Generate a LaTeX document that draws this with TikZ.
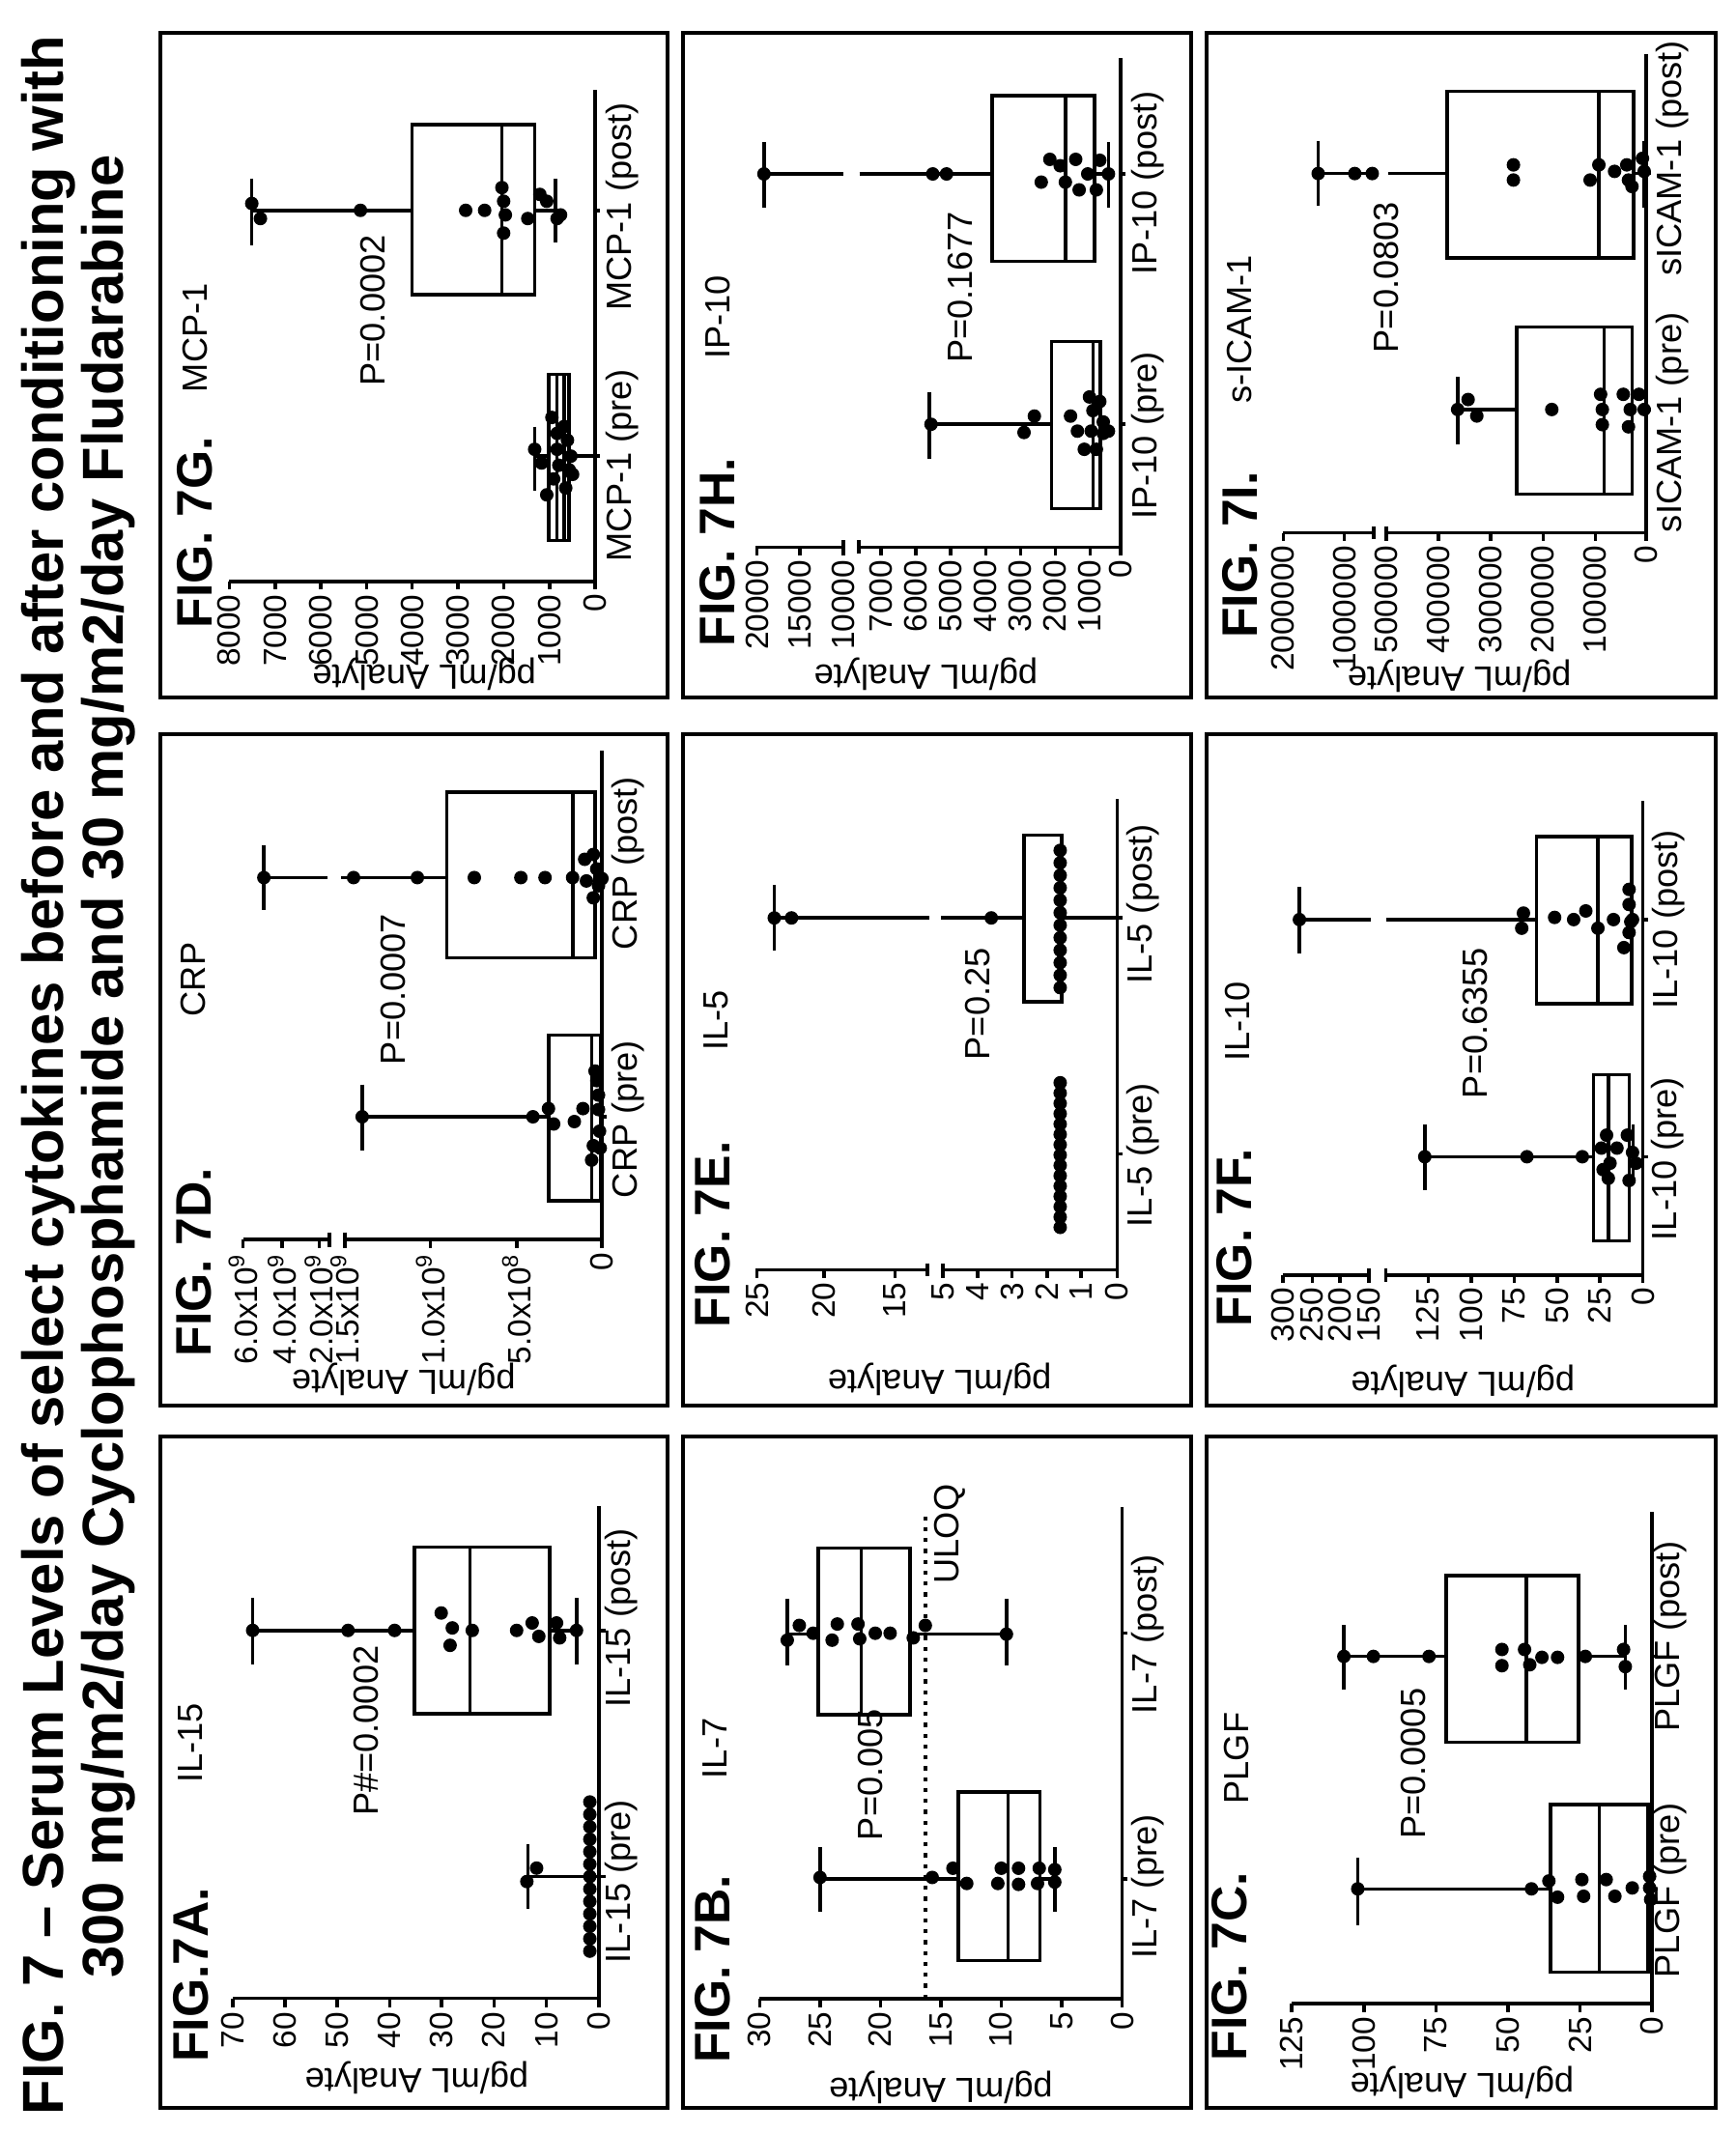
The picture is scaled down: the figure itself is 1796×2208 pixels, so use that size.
\documentclass[tikz,border=0pt]{standalone}
\usepackage{fontspec}
\setmainfont{Liberation Sans}
\usepackage{tikz}
\usetikzlibrary{positioning}

\tikzset{
  pframe/.style n args={8}{shift={({#1+#8/(#8-#7)*#3},{#2+#6/(#6-#5)*#4})},
    x={(0pt,{-#4/(#6-#5)*0.01cm})}, y={({-#3/(#8-#7)*0.01cm},0pt)}},
  border/.style={line width=1.2pt},
  axis/.style={line width=1pt},
  bx/.style={line width=1pt},
  pdot/.style={circle, fill=black, inner sep=0pt, minimum size=0.14cm},
  tick/.style={anchor=east, inner sep=1pt, font=\fontsize{9.5}{10}\selectfont},
  figlab/.style={anchor=west, inner sep=0pt, font=\fontsize{14.7}{15}\selectfont\bfseries},
  ylab/.style={rotate=90},
}

\begin{document}
\begin{tikzpicture}[x=0.01cm, y=0.01cm, every node/.style={rotate=90, font=\fontsize{10.3}{11}\selectfont}]
\useasboundingbox (0,0) rectangle (1796,2208);
\begin{scope}[shift={(1796,0)}, rotate=90]
  % title
  \node[anchor=west, inner sep=0pt, font=\fontsize{17}{18}\selectfont\bfseries] (title1) at (18,1746)
    {FIG. 7 -- Serum Levels of select cytokines before and after conditioning with};
  \node[inner sep=0pt, font=\fontsize{17}{18}\selectfont\bfseries] (title2) at (1104,1684)
    {300 mg/m2/day Cyclophosphamide and 30 mg/m2/day Fludarabine};

  % FIG 7A
  \begin{scope}[pframe={26}{1105}{695}{525}{362}{1505}{170}{1520}]
    \draw[border] (362,170) rectangle (1505,1520);
    \draw[axis] (525,1300) -- (1350,1300) -- (1350,310);
    \foreach \t/\l in {525/70,643/60,761/50,879/40,996/30,1114/20,1232/10,1350/0}
      {\draw[axis] (\t,1300) -- (\t,1318); \node[tick] at (\t,1320) {\l};}
    \draw[axis] (1350,1055) -- (1365,1055) (1350,560) -- (1365,560);
    \node[figlab] (figA) at (430,1430) {FIG.7A.};
    \node (nameA) at (430,787) {IL-15};
    \node[ylab] (yA) at (940,1460) {pg/mL Analyte};
    \node (pA) at (825,762) {P\#=0.0002};
    \node (preA) at (1400,1065) {IL-15 (pre)};
    \node (postA) at (1400,535) {IL-15 (post)};
    \draw[bx] (935,392) rectangle (1240,728) (1060,392) -- (1060,728);
    \draw[bx] (570,560) -- (935,560) (570,495) -- (570,628);
    \draw[bx] (1240,560) -- (1300,560) (1300,495) -- (1300,628);
    \foreach \p in {(570,560),(785,560),(890,560),(995,525),(1015,590),(1020,555),(1065,560),
      (1165,560),(1200,545),(1215,572),(1255,545),(1262,575),(1300,560)} \node[pdot] at \p {};
    \draw[bx] (1190,1055) -- (1350,1055) (1190,990) -- (1190,1120);
    \foreach \p in {(1188,1065),(1210,1038)} \node[pdot] at \p {};
    \foreach \z in {905,930,...,1205} \node[pdot] at (1330,\z) {};
  \end{scope}

  % FIG 7B
  \begin{scope}[pframe={26}{563}{695}{526}{48}{1520}{58}{1515}]
    \draw[border] (48,58) rectangle (1520,1515);
    \draw[axis] (270,1278) -- (1320,1278) -- (1320,210);
    \foreach \t/\l in {270/30,445/25,620/20,795/15,970/10,1145/5,1320/0}
      {\draw[axis] (\t,1278) -- (\t,1296); \node[tick] at (\t,1298) {\l};}
    \draw[axis] (1320,1018) -- (1335,1018) (1320,485) -- (1335,485);
    \draw[line width=1.2pt, dotted] (750,1278) -- (750,220);
    \node (uloq) at (820,270) {ULOQ};
    \node[figlab] (figB) at (135,1420) {FIG. 7B.};
    \node (nameB) at (140,735) {IL-7};
    \node[ylab] (yB) at (795,1470) {pg/mL Analyte};
    \node (pB) at (590,792) {P=0.005};
    \node (preB) at (1395,1035) {IL-7 (pre)};
    \node (postB) at (1395,487) {IL-7 (post)};
    \draw[bx] (845,830) rectangle (1082,1195) (990,830) -- (990,1195);
    \draw[bx] (445,1018) -- (845,1018) (445,950) -- (445,1090);
    \draw[bx] (1082,1018) -- (1125,1018) (1125,950) -- (1125,1090);
    \foreach \p in {(445,1015),(770,1015),(830,995),(870,1028),(960,1028),(970,995),(1020,995),
      (1020,1030),(1080,995),(1075,1028),(1125,998),(1125,1025)} \node[pdot] at \p {};
    \draw[bx] (440,300) rectangle (705,662) (565,300) -- (565,662);
    \draw[bx] (350,487) -- (440,487) (350,410) -- (350,555);
    \draw[bx] (705,487) -- (985,487) (985,410) -- (985,555);
    \foreach \p in {(350,500),(385,468),(425,485),(480,500),(495,465),(555,465),(560,497),
      (605,485),(648,485),(715,495),(750,468),(985,487)} \node[pdot] at \p {};
  \end{scope}

  % FIG 7C
  \begin{scope}[pframe={26}{20}{695}{527}{80}{1545}{75}{1525}]
    \draw[border] (80,75) rectangle (1545,1525);
    \draw[axis] (325,1300) -- (1362,1300) -- (1362,238);
    \foreach \t/\l in {325/125,533/100,740/75,948/50,1155/25,1362/0}
      {\draw[axis] (\t,1300) -- (\t,1318); \node[tick] at (\t,1320) {\l};}
    \draw[axis] (1362,1052) -- (1377,1052) (1362,550) -- (1377,550);
    \node[figlab] (figC) at (145,1425) {FIG. 7C.};
    \node (nameC) at (165,770) {PLGF};
    \node[ylab] (yC) at (815,1470) {pg/mL Analyte};
    \node (pC) at (675,782) {P=0.0005};
    \node (preC) at (1415,1055) {PLGF (pre)};
    \node (postC) at (1415,507) {PLGF (post)};
    \draw[bx] (1070,870) rectangle (1350,1232) (1210,870) -- (1210,1232);
    \draw[bx] (515,1052) -- (1070,1052) (515,985) -- (515,1130);
    \foreach \p in {(515,1052),(1015,1052),(1065,1035),(1090,1070),(1160,1032),(1165,1068),
      (1230,1032),(1255,1068),(1305,1050),(1355,1025),(1355,1050),(1358,1075)} \node[pdot] at \p {};
    \draw[bx] (770,375) rectangle (1150,735) (1000,375) -- (1000,735);
    \draw[bx] (475,550) -- (770,550) (475,482) -- (475,622);
    \draw[bx] (1150,550) -- (1285,550) (1285,482) -- (1285,622);
    \foreach \p in {(475,550),(560,550),(720,550),(930,535),(930,570),(995,535),(1010,568),
      (1045,552),(1090,552),(1170,550),(1280,535),(1285,572)} \node[pdot] at \p {};
  \end{scope}

  % FIG 7D
  \begin{scope}[pframe={753}{1105}{695}{525}{45}{1515}{80}{1475}]
    \draw[border] (45,80) rectangle (1515,1475);
    \draw[axis] (285,1130) -- (535,1130) (580,1130) -- (1325,1130) -- (1325,115);
    \draw[axis] (535,1115) -- (535,1145) (580,1115) -- (580,1145);
    \foreach \t/\l in {285/6.0x10\textsuperscript{9},398/4.0x10\textsuperscript{9},505/2.0x10\textsuperscript{9},
      580/1.5x10\textsuperscript{9},828/1.0x10\textsuperscript{9},1078/5.0x10\textsuperscript{8},1325/0}
      {\draw[axis] (\t,1130) -- (\t,1148); \node[tick] at (\t,1150) {\l};}
    \draw[axis] (1325,875) -- (1340,875) (1325,378) -- (1340,378);
    \node[figlab] (figD) at (142,1375) {FIG. 7D.};
    \node (nameD) at (140,590) {CRP};
    \node[ylab] (yD) at (750,1420) {pg/mL Analyte};
    \node (pD) at (720,610) {P=0.0007};
    \node (preD) at (1400,880) {CRP (pre)};
    \node (postD) at (1400,348) {CRP (post)};
    \draw[bx] (1170,705) rectangle (1320,1050) (1295,705) -- (1295,1050);
    \draw[bx] (630,875) -- (1170,875) (630,808) -- (630,945);
    \foreach \p in {(630,875),(1125,875),(1170,858),(1185,890),(1245,885),(1270,858),(1295,965),
      (1300,935),(1305,780),(1310,800),(1315,830),(1315,860),(1318,905),(1320,940)} \node[pdot] at \p {};
    \draw[bx] (875,200) rectangle (1305,545) (1240,200) -- (1240,545);
    \draw[bx] (345,378) -- (530,378) (570,378) -- (875,378) (345,310) -- (345,445);
    \foreach \p in {(345,378),(605,378),(790,378),(955,378),(1090,378),(1160,378),(1240,378),
      (1275,340),(1280,385),(1300,330),(1310,360),(1315,395),(1300,420),(1325,380)} \node[pdot] at \p {};
  \end{scope}

  % FIG 7E
  \begin{scope}[pframe={753}{563}{695}{526}{75}{1550}{90}{1650}]
    \draw[border] (75,90) rectangle (1550,1650);
    \draw[axis] (285,1335) -- (785,1335) (830,1335) -- (1335,1335) -- (1335,240);
    \draw[axis] (785,1320) -- (785,1350) (830,1320) -- (830,1350);
    \foreach \t/\l in {290/25,485/20,690/15,830/5,930/4,1030/3,1133/2,1230/1,1335/0}
      {\draw[axis] (\t,1335) -- (\t,1353); \node[tick] at (\t,1355) {\l};}
    \draw[axis] (1335,1065) -- (1350,1065) (1335,517) -- (1350,517);
    \node[figlab] (figE) at (160,1470) {FIG. 7E.};
    \node (nameE) at (170,755) {IL-5};
    \node[ylab] (yE) at (820,1590) {pg/mL Analyte};
    \node (pE) at (930,717) {P=0.25};
    \node (preE) at (1410,1068) {IL-5 (pre)};
    \node (postE) at (1410,485) {IL-5 (post)};
    \foreach \z in {900,924,...,1240} \node[pdot] at (1170,\z) {};
    \draw[bx] (1065,325) rectangle (1175,712);
    \draw[bx] (340,517) -- (790,517) (825,517) -- (1065,517) (1175,517) -- (1335,517);
    \draw[bx] (340,440) -- (340,592);
    \foreach \p in {(340,517),(390,517),(970,517)} \node[pdot] at \p {};
    \foreach \z in {360,389,...,680} \node[pdot] at (1170,\z) {};
  \end{scope}

  % FIG 7F
  \begin{scope}[pframe={753}{20}{695}{527}{80}{1550}{90}{1647}]
    \draw[border] (80,90) rectangle (1550,1647);
    \draw[axis] (300,1345) -- (548,1345) (598,1345) -- (1340,1345) -- (1340,245);
    \draw[axis] (548,1330) -- (548,1360) (598,1330) -- (598,1360);
    \foreach \t/\l in {300/300,385/250,465/200,548/150,720/125,845/100,968/75,1093/50,1215/25,1340/0}
      {\draw[axis] (\t,1345) -- (\t,1363); \node[tick] at (\t,1365) {\l};}
    \draw[axis] (1340,1070) -- (1355,1070) (1340,520) -- (1355,520);
    \node[figlab] (figF) at (160,1465) {FIG. 7F.};
    \node (nameF) at (170,757) {IL-10};
    \node[ylab] (yF) at (820,1590) {pg/mL Analyte};
    \node (pF) at (855,760) {P=0.6355};
    \node (preF) at (1410,1075) {IL-10 (pre)};
    \node (postF) at (1415,520) {IL-10 (post)};
    \draw[bx] (1197,880) rectangle (1300,1265) (1240,880) -- (1240,1265);
    \draw[bx] (710,1070) -- (1197,1070) (710,995) -- (710,1148) (1312,995) -- (1312,1125);
    \foreach \p in {(710,1070),(1005,1070),(1165,1070),(1220,1050),(1235,1020),(1240,1120),(1225,1100),
      (1265,1050),(1295,1020),(1300,1125),(1310,1060),(1320,1085),(1245,1085)} \node[pdot] at \p {};
    \draw[bx] (1033,328) rectangle (1307,715) (1210,328) -- (1210,715);
    \draw[bx] (348,520) -- (555,520) (598,520) -- (1033,520) (348,445) -- (348,598);
    \foreach \p in {(348,520),(995,505),(990,540),(1085,515),(1140,520),(1175,500),(1210,540),
      (1255,520),(1300,450),(1300,485),(1305,525),(1300,550),(1285,585),(1310,520)} \node[pdot] at \p {};
  \end{scope}

  % FIG 7G
  \begin{scope}[pframe={1486}{1105}{688}{525}{45}{1515}{70}{1530}]
    \draw[border] (45,70) rectangle (1515,1530);
    \draw[axis] (245,1275) -- (1305,1275) -- (1305,195);
    \foreach \t/\l in {245/8000,378/7000,510/6000,643/5000,775/4000,908/3000,1040/2000,1173/1000,1305/0}
      {\draw[axis] (\t,1275) -- (\t,1293); \node[tick] at (\t,1295) {\l};}
    \draw[axis] (1305,1000) -- (1320,1000) (1305,460) -- (1320,460);
    \node[figlab] (figG) at (145,1380) {FIG. 7G.};
    \node (nameG) at (145,740) {MCP-1};
    \node[ylab] (yG) at (810,1480) {pg/mL Analyte};
    \node (pG) at (660,680) {P=0.0002};
    \node (preG) at (1385,1020) {MCP-1 (pre)};
    \node (postG) at (1385,452) {MCP-1 (post)};
    \draw[bx] (1170,820) rectangle (1230,1185) (1195,820) -- (1195,1185) (1215,820) -- (1215,1185);
    \draw[bx] (1130,1000) -- (1170,1000) (1130,935) -- (1130,1075) (1230,1000) -- (1300,1000);
    \foreach \p in {(1130,985),(1150,1015),(1165,1085),(1180,915),(1185,1050),(1195,950),(1195,985),
      (1200,1020),(1215,935),(1220,1070),(1225,965),(1235,1000),(1230,1030),(1240,1040)} \node[pdot] at \p {};
    \draw[bx] (775,272) rectangle (1130,645) (1035,272) -- (1035,645);
    \draw[bx] (310,460) -- (775,460) (310,390) -- (310,538);
    \draw[bx] (1130,460) -- (1190,460) (1190,390) -- (1190,530);
    \foreach \p in {(310,445),(335,478),(625,460),(930,460),(985,460),(1035,410),(1040,440),(1045,470),
      (1040,510),(1110,478),(1145,425),(1165,440),(1195,478),(1205,470)} \node[pdot] at \p {};
  \end{scope}

  % FIG 7H
  \begin{scope}[pframe={1486}{563}{688}{526}{50}{1525}{70}{1530}]
    \draw[border] (50,70) rectangle (1525,1530);
    \draw[axis] (260,1200) -- (515,1200) (560,1200) -- (1320,1200) -- (1320,125);
    \draw[axis] (515,1185) -- (515,1215) (560,1185) -- (560,1215);
    \foreach \t/\l in {265/20000,390/15000,515/10000,625/7000,726/6000,827/5000,929/4000,1030/3000,1131/2000,1232/1000,1320/0}
      {\draw[axis] (\t,1200) -- (\t,1218); \node[tick] at (\t,1220) {\l};}
    \draw[axis] (1320,930) -- (1335,930) (1320,380) -- (1335,380);
    \node[figlab] (figH) at (150,1420) {FIG. 7H.};
    \node (nameH) at (150,695) {IP-10};
    \node[ylab] (yH) at (755,1480) {pg/mL Analyte};
    \node (pH) at (855,630) {P=0.1677};
    \node (preH) at (1400,955) {IP-10 (pre)};
    \node (postH) at (1400,400) {IP-10 (post)};
    \draw[bx] (1120,748) rectangle (1262,1115) (1240,748) -- (1240,1115);
    \draw[bx] (765,930) -- (1120,930) (765,860) -- (765,1005);
    \foreach \p in {(770,930),(1040,948),(1070,912),(1175,912),(1195,945),(1215,985),(1230,870),
      (1235,945),(1240,900),(1250,985),(1260,880),(1270,950),(1285,945),(1270,925)} \node[pdot] at \p {};
    \draw[bx] (948,208) rectangle (1245,572) (1160,208) -- (1160,572);
    \draw[bx] (285,380) -- (515,380) (562,380) -- (948,380) (285,310) -- (285,455);
    \draw[bx] (1245,380) -- (1285,380) (1285,310) -- (1285,455);
    \foreach \p in {(285,380),(775,380),(815,380),(1090,398),(1115,348),(1145,362),(1160,398),
      (1190,348),(1200,415),(1225,380),(1250,415),(1260,350),(1285,380)} \node[pdot] at \p {};
  \end{scope}

  % FIG 7I
  \begin{scope}[pframe={1486}{20}{688}{527}{85}{1545}{35}{1570}]
    \draw[border] (85,35) rectangle (1545,1570);
    \draw[axis] (305,1190) -- (565,1190) (600,1190) -- (1345,1190) -- (1345,85);
    \draw[axis] (565,1175) -- (565,1205) (600,1175) -- (600,1205);
    \foreach \t/\l in {305/2000000,480/1000000,600/500000,750/400000,900/300000,1050/200000,1200/100000,1345/0}
      {\draw[axis] (\t,1190) -- (\t,1208); \node[tick] at (\t,1210) {\l};}
    \draw[axis] (1345,905) -- (1360,905) (1345,360) -- (1360,360);
    \node[figlab] (figI) at (180,1435) {FIG. 7I.};
    \node (nameI) at (180,720) {s-ICAM-1};
    \node[ylab] (yI) at (810,1520) {pg/mL Analyte};
    \node (pI) at (600,600) {P=0.0803};
    \node (preI) at (1420,935) {sICAM-1 (pre)};
    \node (postI) at (1420,325) {sICAM-1 (post)};
    \draw[bx] (975,715) rectangle (1305,1100) (1225,715) -- (1225,1100);
    \draw[bx] (805,905) -- (975,905) (805,830) -- (805,985);
    \foreach \p in {(805,905),(835,882),(860,920),(1075,905),(1215,870),(1220,905),(1220,940),
      (1280,870),(1300,905),(1295,945),(1325,870),(1340,905)} \node[pdot] at \p {};
    \draw[bx] (775,170) rectangle (1310,555) (1210,170) -- (1210,555);
    \draw[bx] (405,360) -- (570,360) (605,360) -- (775,360) (405,285) -- (405,435);
    \draw[bx] (1310,360) -- (1345,360) (1340,285) -- (1340,440);
    \foreach \p in {(405,360),(510,360),(560,360),(965,340),(965,375),(1185,375),(1210,340),
      (1255,355),(1290,340),(1295,375),(1305,390),(1335,325),(1340,355)} \node[pdot] at \p {};
  \end{scope}
\end{scope}
\end{tikzpicture}
\end{document}
